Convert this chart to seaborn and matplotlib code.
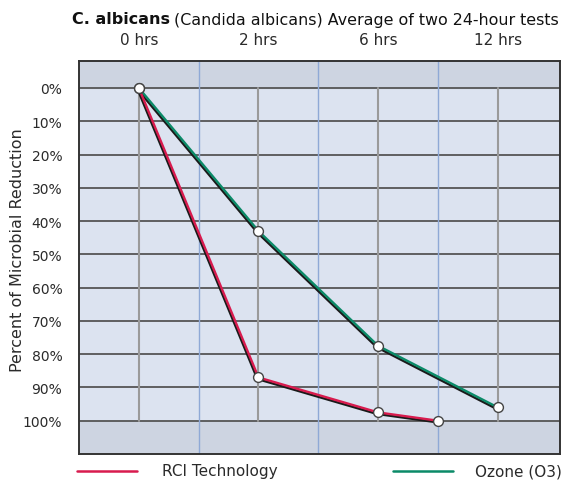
import matplotlib
matplotlib.use("Agg")
import matplotlib.pyplot as plt
import matplotlib.patheffects as pe
import seaborn as sns
import pandas as pd

# ---- data ----
time_labels = ["0 hrs", "2 hrs", "6 hrs", "12 hrs"]
time_pos = [0, 1, 2, 3]
rci_pos = [0, 1, 2, 2.5]
rci_vals = [0, 87, 97.5, 100]
ozone_pos = [0, 1, 2, 3]
ozone_vals = [0, 43, 77.5, 96]
y_ticks = [0, 10, 20, 30, 40, 50, 60, 70, 80, 90, 100]
y_labels = [f"{v}%" for v in y_ticks]

rci_color = "#d81b4e"
ozone_color = "#0b8a68"
text_color = "#2a2a2a"

sns.set_theme(style="white")
plt.rcParams['font.family'] = ['DejaVu Sans']

W, H = 563, 481
fig = plt.figure(figsize=(W / 100, H / 100), dpi=100)
ax = fig.add_axes([79 / W, 1 - 455 / H, (560 - 79) / W, (455 - 62) / H])

xmin, xmax = -0.5, 3.52
ymin, ymax = -8.1, 110
ax.set_xlim(xmin, xmax)
ax.set_ylim(ymax, ymin)

# background bands
ax.set_facecolor("#dce3f0")
ax.axhspan(ymin, 0, color="#cdd4e1", zorder=0)
ax.axhspan(100, ymax, color="#cdd4e1", zorder=0)

# grid lines
for v in y_ticks:
    ax.axhline(v, color="#555555", lw=1.3, zorder=1)
for p in time_pos:
    ax.plot([p, p], [0, 100], color="#9a9a9a", lw=1.5, zorder=1)
for p in [0.5, 1.5, 2.5]:
    ax.axvline(p, color="#8fa9d6", lw=1.0, zorder=1)

df_rci = pd.DataFrame({"pos": rci_pos, "val": rci_vals})
df_oz = pd.DataFrame({"pos": ozone_pos, "val": ozone_vals})

shadow = [pe.SimpleLineShadow(offset=(-0.8, -1.1), shadow_color="#1a1a1a", alpha=1.0), pe.Normal()]
sns.lineplot(data=df_oz, x="pos", y="val", ax=ax, color=ozone_color, lw=1.7,
             zorder=3, path_effects=shadow, sort=False)
sns.lineplot(data=df_rci, x="pos", y="val", ax=ax, color=rci_color, lw=1.7,
             zorder=3, path_effects=shadow, sort=False)
sns.scatterplot(data=df_oz, x="pos", y="val", ax=ax, color="white", edgecolor="#444444",
                s=50, linewidth=1.0, zorder=5)
sns.scatterplot(data=df_rci, x="pos", y="val", ax=ax, color="white", edgecolor="#444444",
                s=50, linewidth=1.0, zorder=5)

# axes ticks
ax.xaxis.tick_top()
ax.set_xticks(time_pos)
ax.set_xticklabels(time_labels, fontsize=11, color=text_color)
ax.set_yticks(y_ticks)
ax.set_yticklabels(y_labels, fontsize=10, color=text_color)
ax.tick_params(axis="both", length=0)
ax.tick_params(axis="x", pad=10)
ax.tick_params(axis="y", pad=12)
ax.set_xlabel("")
ax.set_ylabel("")
fig.text(18 / W, 1 - 250 / H, "Percent of Microbial Reduction", fontsize=11.5,
         rotation=90, va="center", ha="center", color=text_color)

for s in ax.spines.values():
    s.set_visible(True)
    s.set_color("#333333")
    s.set_linewidth(1.4)

# title
t1 = fig.text(72 / W, 1 - 20 / H, "C. albicans", fontsize=11.5, fontweight="bold",
              va="center", ha="left", color="#111111")
fig.canvas.draw()
bb = t1.get_window_extent(fig.canvas.get_renderer())
fig.text((bb.x1 + 4) / W, 1 - 20 / H, "(Candida albicans) Average of two 24-hour tests",
         fontsize=11.4, va="center", ha="left", color="#111111")

# legend
ly = 1 - 472 / H
fig.add_artist(plt.Line2D([77 / W, 137 / W], [ly, ly], color=rci_color, lw=1.8))
fig.text(162 / W, ly, "RCI Technology", fontsize=11, va="center", ha="left", color=text_color)
fig.add_artist(plt.Line2D([393 / W, 453 / W], [ly, ly], color=ozone_color, lw=1.8))
fig.text(475 / W, ly, "Ozone (O3)", fontsize=11, va="center", ha="left", color=text_color)

fig.savefig("out.png", dpi=100)
